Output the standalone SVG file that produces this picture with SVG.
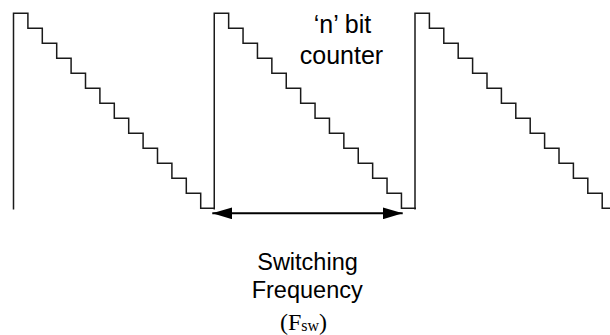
<svg xmlns="http://www.w3.org/2000/svg" width="610" height="335" viewBox="0 0 610 335">
  <style>
    .wave { fill: none; stroke: #1a1a1a; stroke-width: 1.5; stroke-linejoin: miter; }
    .conn { stroke: #000; stroke-width: 2; fill: none; }
    .sans { font-family: "Liberation Sans", Arial, sans-serif; fill: #000; text-anchor: middle; }
    .serif { font-family: "Liberation Serif", "Times New Roman", serif; fill: #000; }
  </style>
  <defs>
    <marker id="ah" markerUnits="userSpaceOnUse" markerWidth="20" markerHeight="12" refX="20" refY="6" orient="auto-start-reverse" viewBox="0 0 20 12">
      <path d="M0,0 L20,6 L0,12 Z" fill="#000"/>
    </marker>
  </defs>
  <rect width="610" height="335" fill="#fff"/>
  <g id="wave1">
    <path class="wave" d="M13.5,209.5 V13.3 h14.4 v15 h14.4 v15 h14.4 v15 h14.4 v15 h14.4 v15 h14.4 v15 h14.4 v15 h14.4 v15 h14.4 v15 h14.4 v15 h14.4 v15 h14.4 v15 h14.4 v15 H214.25"/>
  </g>
  <g id="wave2">
    <path class="wave" d="M214.25,209.5 V13.3 h14.4 v15 h14.4 v15 h14.4 v15 h14.4 v15 h14.4 v15 h14.4 v15 h14.4 v15 h14.4 v15 h14.4 v15 h14.4 v15 h14.4 v15 h14.4 v15 h14.4 v15 H416"/>
  </g>
  <g id="wave3">
    <path class="wave" d="M415,209.5 V13.3 h14.4 v15 h14.4 v15 h14.4 v15 h14.4 v15 h14.4 v15 h14.4 v15 h14.4 v15 h14.4 v15 h14.4 v15 h14.4 v15 h14.4 v15 h14.4 v15 h14.4 v15 H611"/>
  </g>
  <g id="connectors">
    <line class="conn" x1="212.3" y1="213.3" x2="402.7" y2="213.3" marker-start="url(#ah)" marker-end="url(#ah)"/>
  </g>
  <g id="label-counter">
    <text class="sans" x="342.5" y="33.3" font-size="25">‘n’ bit</text>
    <text class="sans" x="341.5" y="64.3" font-size="25">counter</text>
  </g>
  <g id="label-fsw">
    <text class="sans" x="307.5" y="270" font-size="23.5">Switching</text>
    <text class="sans" x="307.2" y="298.3" font-size="23.5">Frequency</text>
    <text class="serif" x="303.5" y="329.5" font-size="24" text-anchor="middle">(F<tspan font-size="16" dy="1.5">sw</tspan><tspan dy="-1.5">)</tspan></text>
  </g>
</svg>
